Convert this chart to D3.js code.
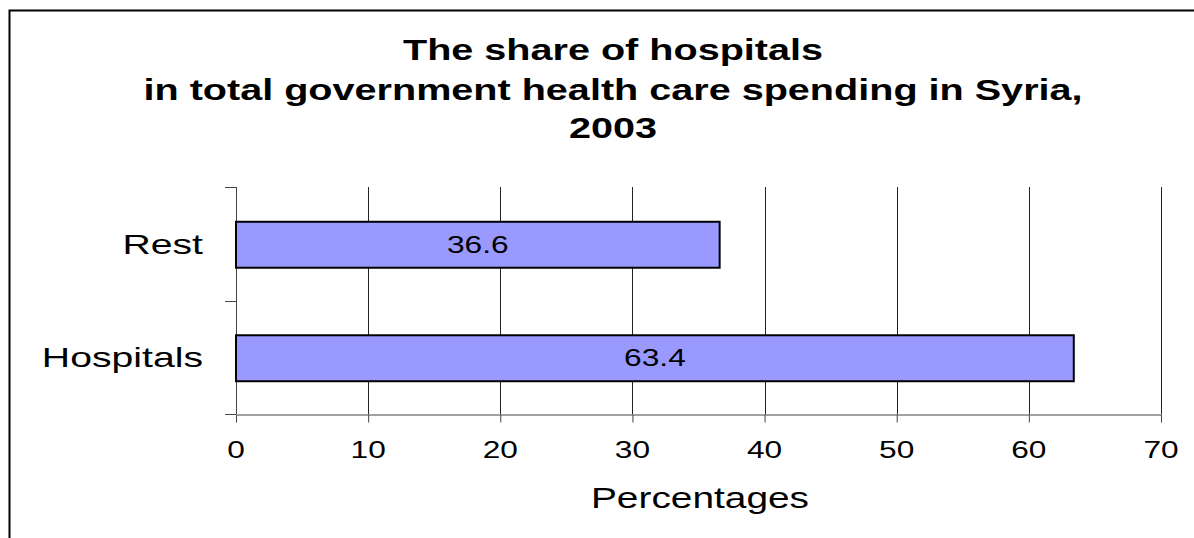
<!DOCTYPE html>
<html>
<head>
<meta charset="utf-8">
<script src="https://cdn.jsdelivr.net/npm/d3@7"></script>
<style>
  html, body { margin: 0; padding: 0; background: #fff; }
  svg { display: block; }
  text { font-family: "Liberation Sans", Arial, sans-serif; fill: #000; }
</style>
</head>
<body>
<svg id="chart" width="1194" height="538"></svg>
<script>
// Chart data
const titleLines = ["The share of hospitals",
                    "in total government health care spending in Syria,",
                    "2003"];
const categories = ["Rest", "Hospitals"];
const shares = [36.6, 63.4];
const xTicks = [0, 10, 20, 30, 40, 50, 60, 70];
const xAxisTitle = "Percentages";

const svg = d3.select("#chart");

// Plot area
const plot = { left: 236, right: 1161, top: 187, bottom: 414 };

const x = d3.scaleLinear().domain([0, 70]).range([plot.left, plot.right]);
const y = d3.scaleBand().domain(categories).range([plot.top, plot.bottom]).padding(0);
const barH = y.bandwidth() * 0.405;

// Horizontally widened text, like the original export
function wideText(sel, tx, ty, str, size, sx, opts = {}) {
  const g = sel.append("g").attr("transform", `translate(${tx},${ty}) scale(${sx},1)`);
  g.append("text")
    .attr("text-anchor", opts.anchor || "middle")
    .attr("font-size", size)
    .attr("font-weight", opts.weight || "normal")
    .text(str);
  return g;
}

// Outer frame (runs past the right and bottom edges)
svg.append("rect")
  .attr("x", 9.5).attr("y", 10.5)
  .attr("width", 1300).attr("height", 700)
  .attr("fill", "none").attr("stroke", "#000").attr("stroke-width", 2);

// Title
const titleBase = [60, 100, 138];
titleLines.forEach((t, i) => wideText(svg, 613, titleBase[i], t, 30, 1.32, { weight: "bold" }));

// Vertical gridlines
svg.append("g").selectAll("line")
  .data(xTicks.filter(d => d > 0))
  .join("line")
  .attr("x1", d => Math.round(x(d)) + 0.5).attr("x2", d => Math.round(x(d)) + 0.5)
  .attr("y1", plot.top).attr("y2", plot.bottom)
  .attr("stroke", "#222").attr("stroke-width", 1);

// X axis
const xAxis = svg.append("g")
  .attr("transform", `translate(0,${plot.bottom + 0.5})`)
  .call(d3.axisBottom(x).tickValues(xTicks).tickSize(8).tickSizeOuter(0).tickFormat(""));
xAxis.select(".domain").attr("stroke", "#444");
xAxis.selectAll(".tick line").attr("stroke", "#444");
xTicks.forEach(t => wideText(svg, x(t), 458, String(t), 24, 1.32));

// Axis title
wideText(svg, 700, 508, xAxisTitle, 29, 1.34);

// Y axis line and category boundary ticks
svg.append("line")
  .attr("x1", plot.left + 0.5).attr("x2", plot.left + 0.5)
  .attr("y1", plot.top).attr("y2", plot.bottom)
  .attr("stroke", "#444");
const bounds = [y.range()[0], ...categories.map(c => y(c) + y.bandwidth())];
svg.append("g").selectAll("line")
  .data(bounds)
  .join("line")
  .attr("x1", plot.left - 11).attr("x2", plot.left)
  .attr("y1", d => Math.round(d) + 0.5).attr("y2", d => Math.round(d) + 0.5)
  .attr("stroke", "#444");

// Category labels
categories.forEach(c => wideText(svg, 203, y(c) + y.bandwidth() / 2 + 10, c, 28, 1.4, { anchor: "end" }));

// Bars
svg.append("g").selectAll("rect")
  .data(categories.map((c, i) => ({ c, v: shares[i] })))
  .join("rect")
  .attr("x", x(0))
  .attr("y", d => y(d.c) + (y.bandwidth() - barH) / 2 + 1)
  .attr("width", d => x(d.v) - x(0))
  .attr("height", barH)
  .attr("fill", "#9999FF")
  .attr("stroke", "#000")
  .attr("stroke-width", 2);

// Value labels, centred in each bar
categories.forEach((c, i) => {
  const cx = (x(0) + x(shares[i])) / 2;
  wideText(svg, cx, y(c) + y.bandwidth() / 2 + 9, shares[i].toFixed(1), 23, 1.38);
});
</script>
</body>
</html>
